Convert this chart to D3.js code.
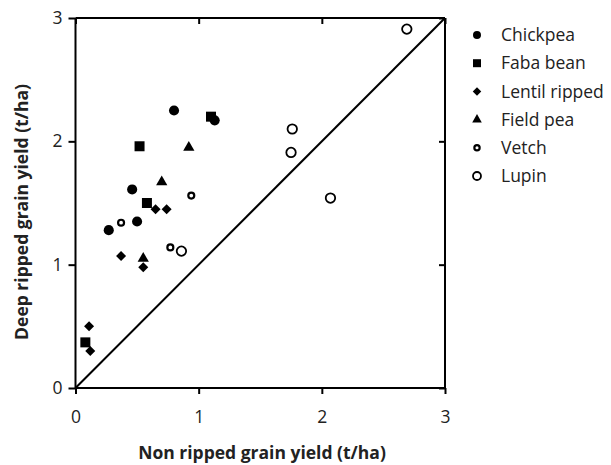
<!DOCTYPE html>
<html>
<head>
<meta charset="utf-8">
<script src="https://cdn.jsdelivr.net/npm/d3@7"></script>
<style>
  html, body { margin: 0; padding: 0; background: #fff; }
  svg { display: block; font-family: "Open Sans", "DejaVu Sans", sans-serif; }
</style>
</head>
<body>
<svg id="chart" width="611" height="465"></svg>
<script>
// Grain yield (t/ha): non ripped (x) vs deep ripped (y), per crop
const chickpeaX = [0.80, 1.13, 0.46, 0.50, 0.27];
const chickpeaY = [2.25, 2.17, 1.61, 1.35, 1.28];
const fabaX = [1.10, 0.52, 0.58, 0.08];
const fabaY = [2.20, 1.96, 1.50, 0.37];
const lentilX = [0.65, 0.74, 0.37, 0.55, 0.11, 0.12];
const lentilY = [1.45, 1.45, 1.07, 0.98, 0.50, 0.30];
const fieldPeaX = [0.92, 0.70, 0.55];
const fieldPeaY = [1.95, 1.67, 1.05];
const vetchX = [0.94, 0.37, 0.77];
const vetchY = [1.56, 1.34, 1.14];
const lupinX = [0.86, 2.69, 1.76, 1.75, 2.07];
const lupinY = [1.11, 2.91, 2.10, 1.91, 1.54];

const seriesNames = ["Chickpea", "Faba bean", "Lentil ripped", "Field pea", "Vetch", "Lupin"];
const tickValues = [0, 1, 2, 3];
const xTitle = "Non ripped grain yield (t/ha)";
const yTitle = "Deep ripped grain yield (t/ha)";

// Square rotated 45 degrees; size is the area
const diamondSquare = {
  draw(ctx, size) {
    const r = Math.sqrt(size / 2);
    ctx.moveTo(0, -r); ctx.lineTo(r, 0); ctx.lineTo(0, r); ctx.lineTo(-r, 0); ctx.closePath();
  }
};

const series = [
  { name: seriesNames[0], xs: chickpeaX, ys: chickpeaY, type: d3.symbolCircle, size: 80, legSize: 50, fill: "#000", stroke: "none", sw: 0 },
  { name: seriesNames[1], xs: fabaX, ys: fabaY, type: d3.symbolSquare, size: 100, legSize: 64, fill: "#000", stroke: "none", sw: 0 },
  { name: seriesNames[2], xs: lentilX, ys: lentilY, type: diamondSquare, size: 50, legSize: 36, fill: "#000", stroke: "none", sw: 0 },
  { name: seriesNames[3], xs: fieldPeaX, ys: fieldPeaY, type: d3.symbolTriangle, size: 55, legSize: 40, fill: "#000", stroke: "none", sw: 0 },
  { name: seriesNames[4], xs: vetchX, ys: vetchY, type: d3.symbolCircle, size: 28, legSize: 22, fill: "#fff", stroke: "#000", sw: 2.2 },
  { name: seriesNames[5], xs: lupinX, ys: lupinY, type: d3.symbolCircle, size: 70, legSize: 50, fill: "#fff", stroke: "#000", sw: 1.8 }
];

const svg = d3.select("#chart");
const plotLeft = 75.5, plotRight = 445, plotTop = 18, plotBottom = 388;
const fontSize = "17.5px";

const x = d3.scaleLinear().domain([0, 3]).range([plotLeft, plotRight]);
const y = d3.scaleLinear().domain([0, 3]).range([plotBottom, plotTop]);

const fmt = d3.format("d");

// Bottom and left axes: outward ticks with labels
const gx = svg.append("g").attr("transform", `translate(0,${plotBottom})`)
  .call(d3.axisBottom(x).tickValues(tickValues).tickFormat(fmt).tickSize(6).tickPadding(17));
const gy = svg.append("g").attr("transform", `translate(${plotLeft},0)`)
  .call(d3.axisLeft(y).tickValues(tickValues).tickFormat(fmt).tickSize(7).tickPadding(6));
// Top and right axes: inward ticks, no labels
const gt = svg.append("g").attr("transform", `translate(0,${plotTop})`)
  .call(d3.axisTop(x).tickValues(tickValues).tickFormat("").tickSize(-6));
const gr = svg.append("g").attr("transform", `translate(${plotRight},0)`)
  .call(d3.axisRight(y).tickValues(tickValues).tickFormat("").tickSize(-6));

[gx, gy, gt, gr].forEach(g => {
  g.select(".domain").attr("stroke", "#000").attr("stroke-width", 2);
  g.selectAll(".tick line").attr("stroke", "#000").attr("stroke-width", 2);
  g.selectAll(".tick text").attr("fill", "#222").style("font-size", fontSize)
    .style("font-family", "'Open Sans', sans-serif");
});
gx.select(".domain").attr("d", `M${plotLeft},0H${plotRight}`);
gy.select(".domain").attr("d", `M0,${plotBottom}V${plotTop}`);
gt.select(".domain").attr("d", `M${plotLeft},0H${plotRight}`);
gr.select(".domain").attr("d", `M0,${plotBottom}V${plotTop}`);

// 1:1 line
svg.append("line")
  .attr("x1", x(0)).attr("y1", y(0)).attr("x2", x(3)).attr("y2", y(3))
  .attr("stroke", "#000").attr("stroke-width", 2);

// Points
series.forEach(s => {
  const sym = d3.symbol().type(s.type).size(s.size);
  svg.append("g").selectAll("path")
    .data(s.xs.map((v, i) => [v, s.ys[i]]))
    .join("path")
    .attr("transform", d => `translate(${x(d[0])},${y(d[1])})`)
    .attr("d", sym)
    .attr("fill", s.fill)
    .attr("stroke", s.stroke)
    .attr("stroke-width", s.sw);
});

// Legend
const legend = svg.append("g").attr("transform", "translate(477,35)");
series.forEach((s, i) => {
  const row = legend.append("g").attr("transform", `translate(0,${i * 28.2})`);
  row.append("path")
    .attr("d", d3.symbol().type(s.type).size(s.legSize))
    .attr("fill", s.fill).attr("stroke", s.stroke).attr("stroke-width", s.sw);
  row.append("text")
    .attr("x", 24).attr("y", 0).attr("dy", "0.35em")
    .attr("fill", "#222").style("font-size", fontSize)
    .text(s.name);
});

// Axis titles
svg.append("text")
  .attr("x", 262).attr("y", 459)
  .attr("text-anchor", "middle").style("font-size", fontSize).style("font-weight", "bold")
  .attr("fill", "#222")
  .text(xTitle);
svg.append("text")
  .attr("transform", `translate(28,212) rotate(-90)`)
  .attr("text-anchor", "middle").style("font-size", fontSize).style("font-weight", "bold")
  .attr("fill", "#222")
  .text(yTitle);
</script>
</body>
</html>
